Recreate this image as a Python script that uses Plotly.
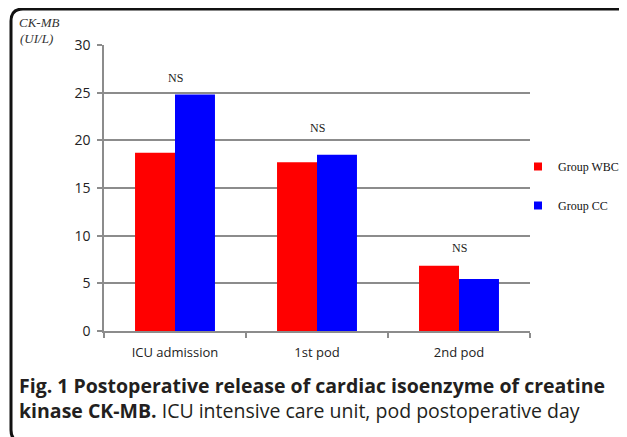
import plotly.graph_objects as go

categories = ["ICU admission", "1st pod", "2nd pod"]
group_wbc = [18.7, 17.7, 6.85]
group_cc = [24.8, 18.5, 5.45]
ns_labels = ["NS", "NS", "NS"]
ns_y = [26.5, 21.3, 8.7]
y_ticks = [0, 5, 10, 15, 20, 25, 30]

OFF = 8  # page body margin
W, H = 627 - OFF, 437 - OFF
L, R, T, B = 104 - OFF, 627 - 530, 45 - OFF, 437 - 331
pw, ph = W - L - R, H - T - B

def px(x):
    return (x - OFF - L) / pw

def py(y):
    return (H - B - (y - OFF)) / ph

def cx(x):
    return (x - OFF) / W

def cy(y):
    return 1 - (y - OFF) / H

fig = go.Figure()
fig.add_trace(go.Bar(x=categories, y=group_wbc, name="Group WBC", showlegend=False,
                     marker=dict(color="#ff0000", line=dict(width=0))))
fig.add_trace(go.Bar(x=categories, y=group_cc, name="Group CC", showlegend=False,
                     marker=dict(color="#0000ff", line=dict(width=0))))
fig.add_trace(go.Scatter(x=[None], y=[None], mode="markers", name="Group WBC", legendgroup="a",
                         marker=dict(symbol="square", size=8, color="#ff0000")))
fig.add_trace(go.Scatter(x=[None], y=[None], mode="markers", name="Group CC", legendgroup="b",
                         marker=dict(symbol="square", size=8, color="#0000ff")))

annotations = []
for c, t, y in zip(categories, ns_labels, ns_y):
    annotations.append(dict(x=c, y=y, text=t, showarrow=False, xref="x", yref="y",
                            font=dict(family="Liberation Serif", size=12, color="#222")))

annotations.append(dict(x=px(17), y=py(22), xref="paper", yref="paper", xanchor="left",
                        yanchor="middle", showarrow=False, text="<i>CK-MB</i>",
                        font=dict(family="Liberation Serif", size=13, color="#333")))
annotations.append(dict(x=px(18), y=py(39), xref="paper", yref="paper", xanchor="left",
                        yanchor="middle", showarrow=False, text="<i>(UI/L)</i>",
                        font=dict(family="Liberation Serif", size=13, color="#333")))

annotations.append(dict(x=px(17), y=py(398), xref="paper", yref="paper", xanchor="left",
                        yanchor="middle", showarrow=False, align="left",
                        text="<b>Fig. 1 Postoperative release of cardiac isoenzyme of creatine</b><br>"
                             "<b>kinase CK-MB.</b> ICU intensive care unit, pod postoperative day",
                        font=dict(family="Open Sans", size=19.5, color="#231f20")))

r = 12
x0, y0, x1, y1 = 11, 9, 638, 442
path = (f"M {px(x0)},{py(y0 + r)} Q {px(x0)},{py(y0)} {px(x0 + r)},{py(y0)} "
        f"L {px(x1 - r)},{py(y0)} Q {px(x1)},{py(y0)} {px(x1)},{py(y0 + r)} "
        f"L {px(x1)},{py(y1 - r)} Q {px(x1)},{py(y1)} {px(x1 - r)},{py(y1)} "
        f"L {px(x0 + r)},{py(y1)} Q {px(x0)},{py(y1)} {px(x0)},{py(y1 - r)} Z")

fig.update_layout(
    width=W, height=H,
    margin=dict(l=L, r=R, t=T, b=B, pad=0, autoexpand=False),
    paper_bgcolor="white", plot_bgcolor="white",
    barmode="group", bargap=0.437, bargroupgap=0,
    showlegend=True,
    legend=dict(xref="container", yref="container", x=cx(518), y=cy(152),
                xanchor="left", yanchor="top",
                font=dict(family="Liberation Serif", size=12, color="#111"),
                tracegroupgap=20, itemwidth=30, bgcolor="rgba(0,0,0,0)"),
    annotations=annotations,
    shapes=[dict(type="path", xref="paper", yref="paper", path=path,
                 line=dict(color="#111", width=3), fillcolor="rgba(0,0,0,0)", layer="above")],
    xaxis=dict(type="category", showline=True, linecolor="#8c8c8c", linewidth=1.5,
               ticks="outside", tickson="boundaries", ticklen=5, tickcolor="#8c8c8c",
               tickwidth=1.5, showgrid=False, ticklabelstandoff=9,
               tickfont=dict(family="Open Sans", size=13, color="#222")),
    yaxis=dict(range=[0, 30], tickvals=y_ticks, showline=True, linecolor="#8c8c8c",
               linewidth=1.5, ticks="outside", ticklen=5, tickcolor="#8c8c8c", tickwidth=1.5,
               showgrid=True, gridcolor="#8c8c8c", gridwidth=1.5, zeroline=False,
               tickfont=dict(family="Open Sans", size=14, color="#222"),
               ticklabelstandoff=4),
)

fig.write_html("out.html")
